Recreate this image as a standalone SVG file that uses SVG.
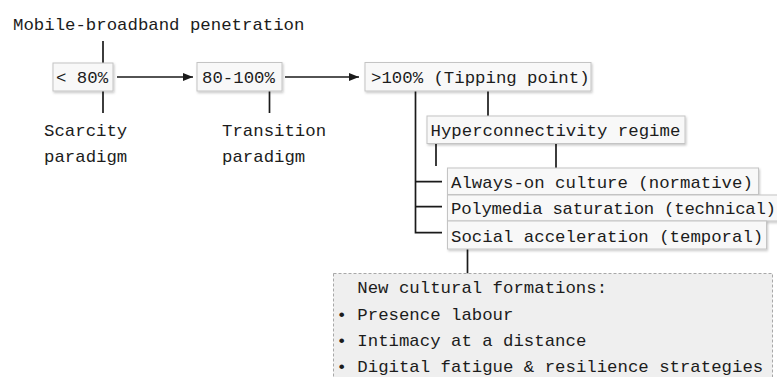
<svg xmlns="http://www.w3.org/2000/svg" width="777" height="377" viewBox="0 0 777 377">
<defs>
<filter id="sh" x="-10%" y="-30%" width="120%" height="170%">
<feDropShadow dx="1" dy="1.5" stdDeviation="1.2" flood-color="#000" flood-opacity="0.22"/>
</filter>
<marker id="arr" viewBox="0 0 10 10" refX="10" refY="5" markerWidth="10" markerHeight="10" markerUnits="userSpaceOnUse" orient="auto">
<path d="M0,1 L10,5 L0,9 Z" fill="#1a1a1a"/>
</marker>
</defs>
<style>
text{font-family:"Liberation Mono","DejaVu Sans Mono",monospace;font-size:17.35px;fill:#1c1c1c}
.box{fill:#f8f8f8;stroke:#c4c4c4;stroke-width:1;filter:url(#sh)}
.dbox{fill:#efefef;stroke:#a8a8a8;stroke-width:1;stroke-dasharray:3 2}
.ln{stroke:#1a1a1a;stroke-width:1.7;fill:none}
</style>
<rect width="777" height="377" fill="#ffffff"/>
<g id="title"><text x="13" y="30">Mobile-broadband penetration</text></g>
<g id="connectors">
<line class="ln" x1="103" y1="41" x2="103" y2="63"/>
<line class="ln" x1="103" y1="91" x2="103" y2="113"/>
<line class="ln" x1="117" y1="77" x2="193" y2="77" marker-end="url(#arr)"/>
<line class="ln" x1="269.5" y1="91" x2="269.5" y2="113"/>
<line class="ln" x1="285" y1="77" x2="359" y2="77" marker-end="url(#arr)"/>
<path class="ln" d="M415.5,91 V232.7 H442 M415.5,181.7 H442 M415.5,206.7 H442"/>
<line class="ln" x1="488" y1="91" x2="488" y2="116"/>
<line class="ln" x1="436" y1="143.5" x2="436" y2="166"/>
<line class="ln" x1="556" y1="143.5" x2="556" y2="168"/>
<line class="ln" x1="467.5" y1="249" x2="467.5" y2="273.5"/>
</g>
<g id="n1"><rect class="box" x="53" y="63" width="60" height="28"/><text x="56" y="83.3">&lt; 80%</text></g>
<g id="n1-label"><text x="44" y="136">Scarcity</text><text x="44" y="162">paradigm</text></g>
<g id="n2"><rect class="box" x="197" y="62.5" width="85" height="28.5"/><text x="202" y="83.3">80-100%</text></g>
<g id="n2-label"><text x="222" y="136">Transition</text><text x="222" y="162">paradigm</text></g>
<g id="n3"><rect class="box" x="365" y="62.5" width="226" height="28.5"/><text x="371" y="83.3">&gt;100% (Tipping point)</text></g>
<g id="n4"><rect class="box" x="427" y="116" width="258" height="27.5"/><text x="430.5" y="136">Hyperconnectivity regime</text></g>
<g id="n5"><rect class="box" x="447.5" y="168" width="311" height="26.5"/><text x="451" y="188.3">Always-on culture (normative)</text></g>
<g id="n6"><rect class="box" x="447.5" y="195" width="345" height="26"/><text x="451" y="213.5" textLength="325" lengthAdjust="spacing">Polymedia saturation (technical)</text></g>
<g id="n7"><rect class="box" x="447.5" y="221" width="319" height="28"/><text x="451" y="241.6">Social acceleration (temporal)</text></g>
<g id="n8"><rect class="dbox" x="333.5" y="273.5" width="439" height="130"/>
<text x="357.3" y="293.3">New cultural formations:</text>
<text x="336.5" y="319.7">• Presence labour</text>
<text x="336.5" y="346">• Intimacy at a distance</text>
<text x="336.5" y="372.3">• Digital fatigue &amp; resilience strategies</text>
</g>
</svg>
